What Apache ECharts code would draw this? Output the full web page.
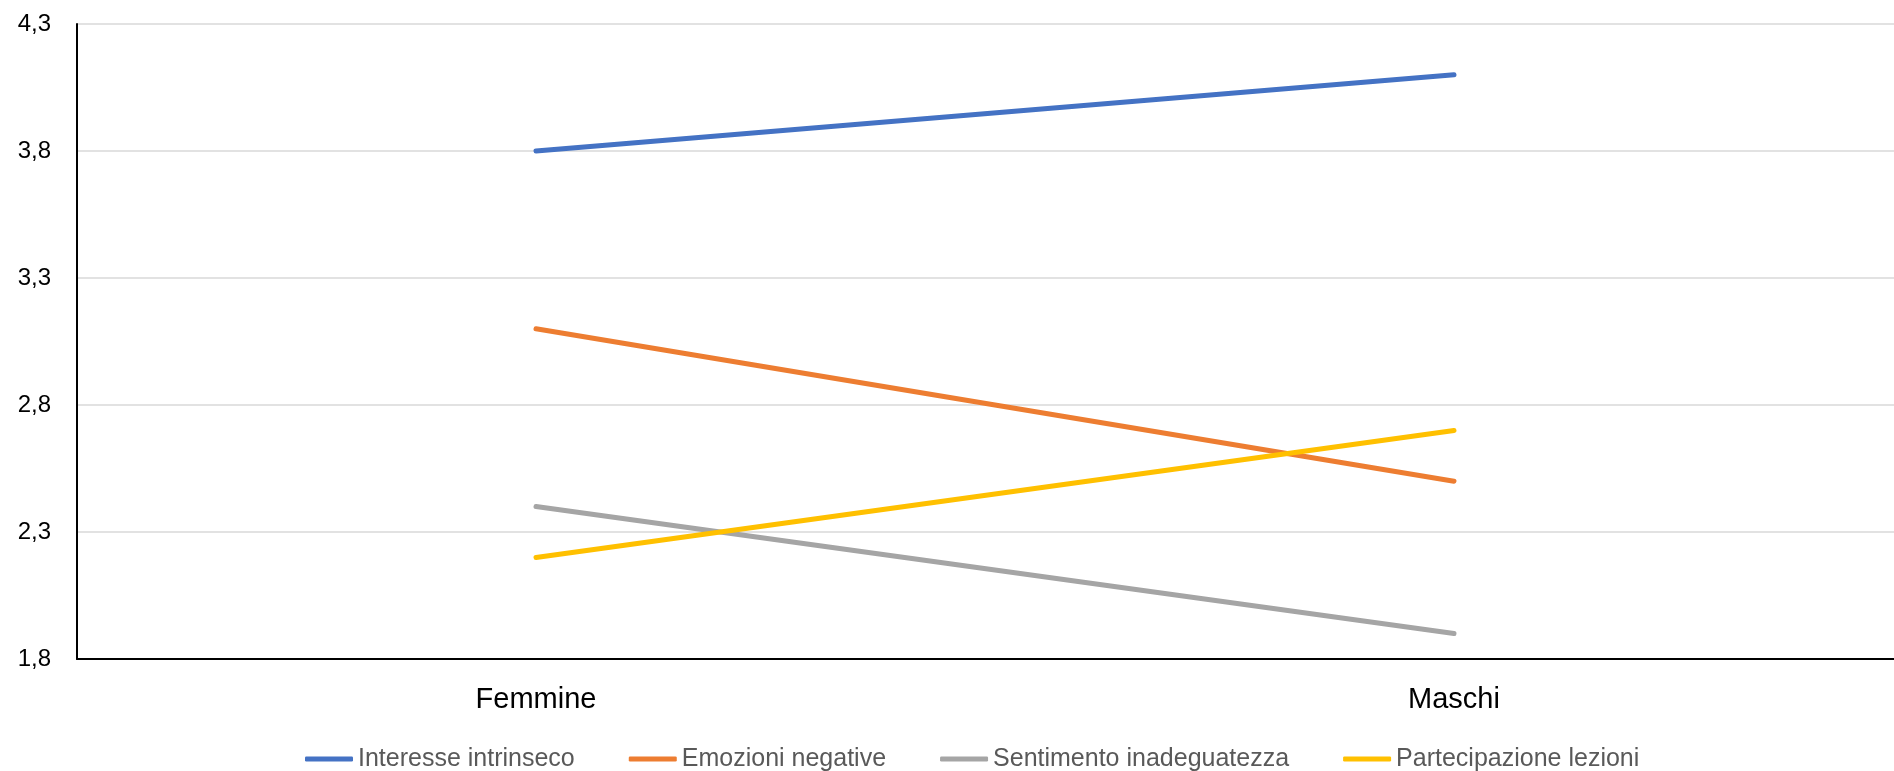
<!DOCTYPE html>
<html>
<head>
<meta charset="utf-8">
<script src="https://cdn.jsdelivr.net/npm/echarts@6/dist/echarts.min.js"></script>
<style>
html,body{margin:0;padding:0;background:#fff;}
#chart{width:1894px;height:771px;}
</style>
</head>
<body>
<div id="chart"></div>
<script>
const categories = ['Femmine', 'Maschi'];
const interesseIntrinseco = [3.80, 4.10];
const emozioniNegative = [3.10, 2.50];
const sentimentoInadeguatezza = [2.40, 1.90];
const partecipazioneLezioni = [2.20, 2.70];
const seriesNames = ['Interesse intrinseco', 'Emozioni negative', 'Sentimento inadeguatezza', 'Partecipazione lezioni'];
const seriesColors = ['#4472C4', '#ED7D31', '#A5A5A5', '#FFC000'];
const yTicks = [1.8, 2.3, 2.8, 3.3, 3.8, 4.3];

const allData = [interesseIntrinseco, emozioniNegative, sentimentoInadeguatezza, partecipazioneLezioni];
const FONT = '"Liberation Sans", Arial, sans-serif';

const chart = echarts.init(document.getElementById('chart'), null, {renderer: 'canvas'});
chart.setOption({
  animation: false,
  backgroundColor: '#fff',
  grid: {left: 77, right: -19, top: 24, bottom: 112, containLabel: false, outerBoundsMode: 'none'},
  xAxis: {
    type: 'category',
    data: categories,
    boundaryGap: true,
    axisLine: {show: true, lineStyle: {color: '#000', width: 2}},
    axisTick: {show: false},
    axisLabel: {color: '#000', fontSize: 29, fontFamily: FONT, margin: 27, lineHeight: 28},
    splitLine: {show: false}
  },
  yAxis: {
    type: 'value',
    min: yTicks[0],
    max: yTicks[yTicks.length - 1],
    axisLine: {show: true, lineStyle: {color: '#000', width: 2}},
    axisTick: {show: false, customValues: yTicks},
    axisLabel: {
      customValues: yTicks,
      color: '#000', fontSize: 24, fontFamily: FONT, margin: 26,
      formatter: v => v.toFixed(1).replace('.', ',')
    },
    splitLine: {show: true, lineStyle: {color: '#D9D9D9', width: 1.5}}
  },
  legend: {
    left: 300, top: 740,
    itemWidth: 48, itemHeight: 5, itemGap: 54,
    icon: 'roundRect',
    textStyle: {color: '#595959', fontSize: 25, fontFamily: FONT, lineHeight: 28},
    data: seriesNames
  },
  series: seriesNames.map((n, i) => ({
    name: n,
    type: 'line',
    data: allData[i],
    color: seriesColors[i],
    showSymbol: false,
    symbol: 'none',
    lineStyle: {width: 5, color: seriesColors[i], cap: 'round'}
  }))
});
</script>
</body>
</html>
